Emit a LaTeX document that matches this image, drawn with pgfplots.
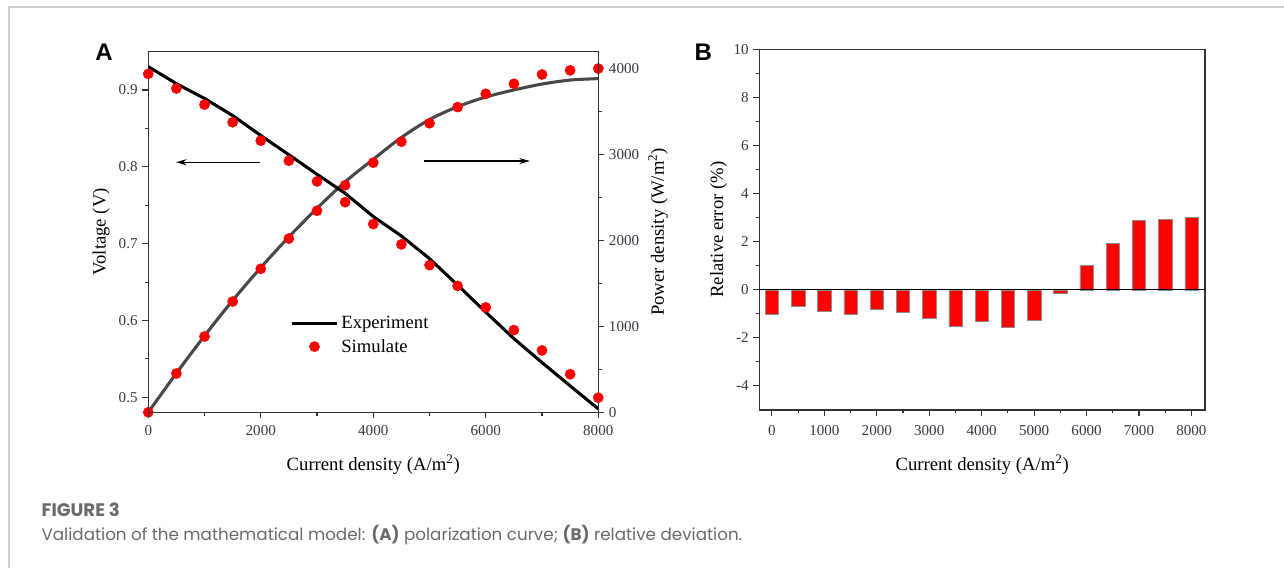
\documentclass[border=0pt]{standalone}
\usepackage{pgfplots}
\pgfplotsset{compat=1.18}
\usepackage{fontspec}
\setmainfont{Liberation Serif}
\newfontfamily\capfont{Poppins}
\newfontfamily\panelfont{Liberation Sans}
\usetikzlibrary{arrows.meta}
\definecolor{axgray}{HTML}{333333}
\definecolor{tickgray}{HTML}{383845}
\definecolor{capgray}{HTML}{6A6A6A}
\definecolor{framegray}{HTML}{D2D2D2}
\definecolor{dotred}{HTML}{FF0000}
\definecolor{pline}{HTML}{484848}

\pgfplotsset{
  common/.style={
    scale only axis,
    /pgf/number format/assume math mode=true,
    /pgf/number format/1000 sep={},
    tick align=outside,
    axis line style={axgray, line width=0.9pt},
    every tick/.style={axgray, line width=0.8pt},
    major tick length=4.5pt,
    minor tick length=2.6pt,
    tick label style={font=\fontsize{11.3}{12}\selectfont, text=tickgray},
    xlabel style={font=\fontsize{14}{15}\selectfont, text=black},
    ylabel style={font=\fontsize{14}{15}\selectfont, text=black},
  },
  legline/.style={legend image code/.code={\draw[##1] (0pt,0pt) -- (34pt,0pt);}},
  legmark/.style={legend image code/.code={\draw[mark repeat=2,mark phase=2,##1] plot coordinates {(0pt,0pt) (17pt,0pt) (34pt,0pt)};}},
  reddots/.style={only marks, color=dotred, mark=*, mark size=3.8pt, mark options={solid, fill=dotred, draw=dotred}},
}

\begin{document}
\begin{tikzpicture}
\path[use as bounding box] (0pt,0pt) rectangle (963pt,-426pt);
\draw[framegray, line width=1.1pt] (963pt,-5.4pt) -- (6.9pt,-5.4pt) -- (6.9pt,-426pt);

% ---------------- Panel A : power density (right axis)
\begin{axis}[common,
  at={(111.2pt,-309.2pt)}, anchor=south west,
  width=337.5pt, height=270.5pt,
  xmin=0, xmax=8000, ymin=0, ymax=4193,
  axis x line=none, axis y line*=right,
  ytick={0,1000,2000,3000,4000}, minor y tick num=1,
  ylabel={Power density (W/m\textsuperscript{2})},
  ylabel near ticks,
  ylabel style={font=\fontsize{14}{15}\selectfont},
]
\addplot[pline, line width=2.3pt, smooth] coordinates {
(0,0) (500,454) (1000,889) (1500,1300) (2000,1682) (2500,2039) (3000,2371)
(3500,2679) (4000,2941) (4500,3195) (5000,3403) (5500,3553) (6000,3665)
(6500,3747) (7000,3816) (7500,3862) (8000,3879)};
\addplot[reddots] coordinates {
(0,0) (500,451) (1000,881) (1500,1287) (2000,1668) (2500,2020) (3000,2343)
(3500,2639) (4000,2902) (4500,3146) (5000,3360) (5500,3548) (6000,3702)
(6500,3819) (7000,3927) (7500,3975) (8000,3996)};
\end{axis}

% ---------------- Panel A : voltage (left axis)
\begin{axis}[common,
  at={(111.2pt,-309.2pt)}, anchor=south west,
  width=337.5pt, height=270.5pt,
  xmin=0, xmax=8000, ymin=0.4805, ymax=0.95,
  xtick={0,2000,4000,6000,8000}, minor x tick num=1,
  ytick={0.5,0.6,0.7,0.8,0.9}, minor y tick num=1,
  tick pos=left,
  xticklabel style={yshift=-2.2pt},
  yticklabel style={/pgf/number format/fixed, /pgf/number format/fixed zerofill, /pgf/number format/precision=1},
  xlabel={Current density (A/m\textsuperscript{2})},
  xlabel style={yshift=-7.5pt},
  ylabel={Voltage (V)},
  legend style={at={(0.315,0.214)}, anchor=west, draw=none, fill=none,
    font=\fontsize{14}{15}\selectfont, row sep=2.5pt, inner sep=0pt},
  legend cell align=left,
]
\addplot[legline, black, line width=2.3pt] coordinates {
(0,0.9304) (500,0.9083) (1000,0.8890) (1500,0.8668) (2000,0.8408) (2500,0.8157)
(3000,0.7903) (3500,0.7655) (4000,0.7353) (4500,0.7100) (5000,0.6805)
(5500,0.6460) (6000,0.6108) (6500,0.5764) (7000,0.5452) (7500,0.5149) (8000,0.4849)};
\addlegendentry{Experiment}
\addplot[legmark, reddots] coordinates {
(0,0.921) (500,0.902) (1000,0.881) (1500,0.858) (2000,0.834) (2500,0.808)
(3000,0.781) (3500,0.754) (4000,0.7255) (4500,0.699) (5000,0.672)
(5500,0.645) (6000,0.617) (6500,0.5875) (7000,0.561) (7500,0.530) (8000,0.4995)};
\addlegendentry{Simulate}
\draw[-{Stealth[length=8pt,width=4.5pt]}, line width=0.9pt] (axis cs:1986,0.806) -- (axis cs:492,0.806);
\draw[-{Stealth[length=8pt,width=4.5pt]}, line width=0.9pt] (axis cs:4901,0.8075) -- (axis cs:6786,0.8075);
\end{axis}

% ---------------- Panel B : relative error
\begin{axis}[common,
  at={(569.5pt,-307.5pt)}, anchor=south west,
  width=334.3pt, height=270.5pt,
  xmin=-240, xmax=8260, ymin=-5, ymax=10,
  xtick={0,1000,...,8000}, minor x tick num=1,
  ytick={-4,-2,0,2,4,6,8,10}, minor y tick num=1,
  tick pos=left,
  xticklabel style={yshift=-3.5pt},
  xlabel={Current density (A/m\textsuperscript{2})},
  xlabel style={yshift=-7.5pt},
  ylabel={Relative error (\%)},
  ylabel style={yshift=-2pt},
]
\addplot[ybar, bar width=10pt, fill=red, draw=black!45, line width=0.4pt] coordinates {
(0,-1.01) (500,-0.69) (1000,-0.90) (1500,-1.01) (2000,-0.81) (2500,-0.94)
(3000,-1.18) (3500,-1.50) (4000,-1.33) (4500,-1.55) (5000,-1.25) (5500,-0.15)
(6000,1.02) (6500,1.92) (7000,2.90) (7500,2.93) (8000,3.02)};
\addplot[black, line width=1pt] coordinates {(-240,0) (8260,0)};
\end{axis}

% panel letters
\node[font=\panelfont\bfseries\fontsize{18}{20}\selectfont] at (78pt,-39.5pt) {A};
\node[font=\panelfont\bfseries\fontsize{18}{20}\selectfont] at (527.5pt,-39.5pt) {B};

% caption
\node[anchor=base west, inner sep=0pt, text=capgray, font=\capfont\bfseries\fontsize{13.6}{15}\selectfont] at (31pt,-387.5pt) {FIGURE 3};
\node[anchor=base west, inner sep=0pt, text=capgray, font=\capfont\fontsize{12.55}{14}\selectfont] at (31pt,-405.6pt) {Validation of the mathematical model: \textbf{(A)} polarization curve; \textbf{(B)} relative deviation.};
\end{tikzpicture}
\end{document}
